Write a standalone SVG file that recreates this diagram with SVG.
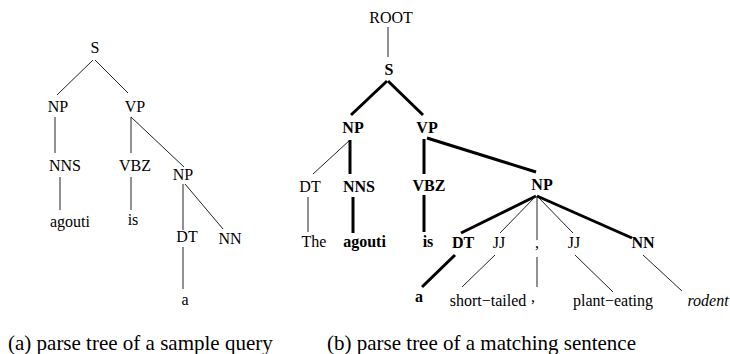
<svg xmlns="http://www.w3.org/2000/svg" width="730" height="354" viewBox="0 0 730 354">
<style>
text{font-family:"Liberation Serif","Times New Roman",serif;font-size:16px;fill:#000;text-anchor:middle}
.b{font-weight:bold}
.i{font-style:italic}
.cap{font-size:21px;text-anchor:start}
.t{stroke:#222;stroke-width:1;fill:none}
.k{stroke:#000;stroke-width:3;fill:none}
</style>
<rect width="730" height="354" fill="#fff"/>
<g id="connectors">
<!-- left tree -->
<line class="t" x1="93" y1="60" x2="57" y2="95"/>
<line class="t" x1="95" y1="60" x2="128" y2="93"/>
<line class="t" x1="55" y1="117" x2="55" y2="153"/>
<line class="t" x1="131" y1="117" x2="131" y2="153"/>
<line class="t" x1="131" y1="117" x2="184" y2="167"/>
<line class="t" x1="60" y1="177" x2="60" y2="210"/>
<line class="t" x1="131" y1="177" x2="131" y2="210"/>
<line class="t" x1="183" y1="184" x2="183" y2="230"/>
<line class="t" x1="185" y1="184" x2="223" y2="229"/>
<line class="t" x1="183" y1="247" x2="183" y2="289"/>
<!-- right tree -->
<line class="t" x1="388" y1="27" x2="388" y2="57"/>
<line class="k" x1="387" y1="81" x2="351" y2="115"/>
<line class="k" x1="388" y1="81" x2="423" y2="115"/>
<line class="t" x1="350" y1="140" x2="313" y2="174"/>
<line class="k" x1="350" y1="140" x2="350" y2="174"/>
<line class="k" x1="424" y1="139" x2="424" y2="174"/>
<line class="k" x1="427" y1="138" x2="536" y2="172"/>
<line class="t" x1="308" y1="197" x2="308" y2="232"/>
<line class="k" x1="353" y1="197" x2="353" y2="233"/>
<line class="k" x1="424" y1="195" x2="424" y2="232"/>
<line class="k" x1="536" y1="196" x2="461" y2="233"/>
<line class="t" x1="536" y1="196" x2="500" y2="233"/>
<line class="t" x1="537" y1="196" x2="537" y2="240"/>
<line class="t" x1="537" y1="196" x2="573" y2="233"/>
<line class="k" x1="537" y1="196" x2="632" y2="238"/>
<line class="k" x1="455" y1="255" x2="422" y2="287"/>
<line class="t" x1="495" y1="255" x2="462" y2="287"/>
<line class="t" x1="537" y1="257" x2="537" y2="287"/>
<line class="t" x1="575" y1="255" x2="613" y2="292"/>
<line class="t" x1="643" y1="255" x2="682" y2="291"/>
</g>
<g id="a_S"><text x="95" y="53">S</text></g>
<g id="a_NP"><text x="58" y="112">NP</text></g>
<g id="a_VP"><text x="135" y="112">VP</text></g>
<g id="a_NNS"><text x="65" y="171">NNS</text></g>
<g id="a_VBZ"><text x="135" y="171">VBZ</text></g>
<g id="a_NP2"><text x="183" y="180">NP</text></g>
<g id="a_agouti"><text x="70" y="227">agouti</text></g>
<g id="a_is"><text x="133" y="225">is</text></g>
<g id="a_DT"><text x="187" y="242">DT</text></g>
<g id="a_NN"><text x="230" y="244">NN</text></g>
<g id="a_a"><text x="185" y="305">a</text></g>

<g id="b_ROOT"><text x="391" y="23">ROOT</text></g>
<g id="b_S"><text class="b" x="389" y="75">S</text></g>
<g id="b_NP"><text class="b" x="353" y="133">NP</text></g>
<g id="b_VP"><text class="b" x="427" y="133">VP</text></g>
<g id="b_DT"><text x="310" y="192">DT</text></g>
<g id="b_NNS"><text class="b" x="359" y="192">NNS</text></g>
<g id="b_VBZ"><text class="b" x="429" y="191">VBZ</text></g>
<g id="b_NP2"><text class="b" x="542" y="190">NP</text></g>
<g id="b_The"><text x="314" y="247">The</text></g>
<g id="b_agouti"><text class="b" x="364.5" y="247">agouti</text></g>
<g id="b_is"><text class="b" x="428" y="247">is</text></g>
<g id="b_DT2"><text class="b" x="463" y="248">DT</text></g>
<g id="b_JJ1"><text x="499" y="248">JJ</text></g>
<g id="b_comma"><text x="537" y="248">,</text></g>
<g id="b_JJ2"><text x="574" y="248">JJ</text></g>
<g id="b_NN"><text class="b" x="643" y="248">NN</text></g>
<g id="b_a"><text class="b" x="419" y="302">a</text></g>
<g id="b_short"><text x="488" y="306">short−tailed</text></g>
<g id="b_comma2"><text x="533" y="302">,</text></g>
<g id="b_plant"><text x="613" y="306">plant−eating</text></g>
<g id="b_rodent"><text class="i" x="708" y="306">rodent</text></g>

<g id="captions">
<text class="cap" x="8" y="350">(a) parse tree of a sample query</text>
<text class="cap" x="327" y="350">(b) parse tree of a matching sentence</text>
</g>
</svg>
